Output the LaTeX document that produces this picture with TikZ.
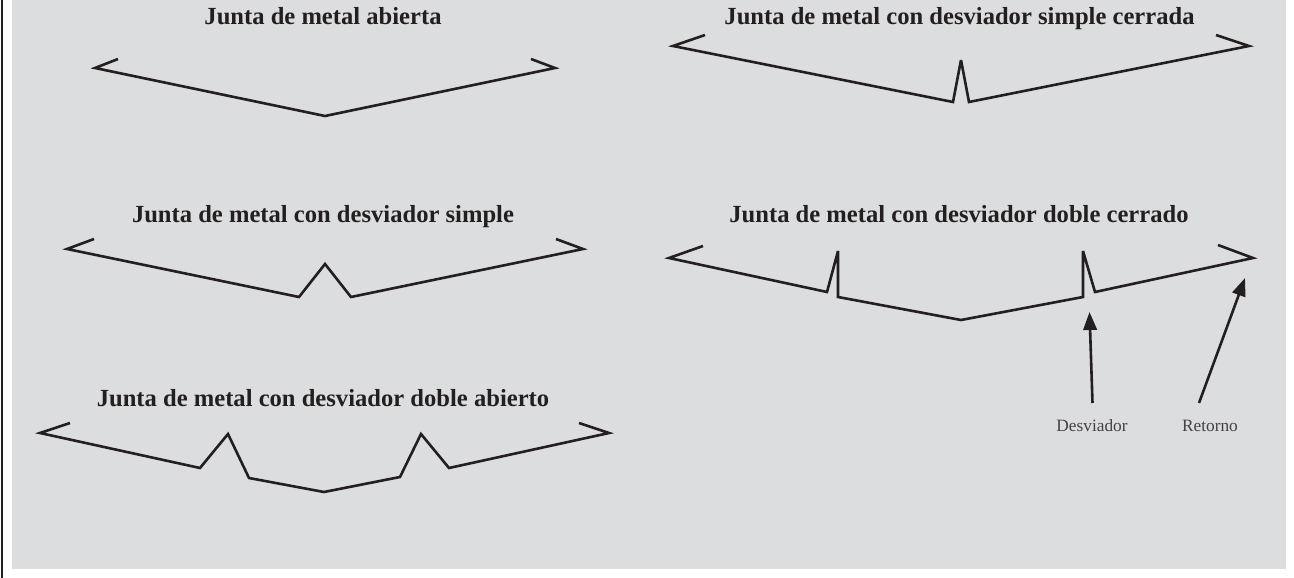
\documentclass[tikz,border=0pt]{standalone}
\usepackage{fontspec}
\setmainfont{Liberation Serif}
\usetikzlibrary{arrows.meta}
\definecolor{panel}{HTML}{DCDDDE}
\definecolor{ink}{HTML}{231F20}
\tikzset{
  x=1pt,y=-1pt,
  joint/.style={draw=ink,line width=2.6pt,miter limit=4.5},
  pointer/.style={draw=ink,line width=2.6pt,-{Triangle[length=18pt,width=13.5pt]}},
  heading/.style={anchor=base,inner sep=0pt,text=ink,font=\fontsize{24.6}{28}\selectfont\bfseries},
  caption/.style={anchor=base,inner sep=0pt,text=ink!85,font=\fontsize{17.3}{20}\selectfont}
}
\begin{document}
\begin{tikzpicture}
\useasboundingbox (0,0) rectangle (1294,578);
\fill[white] (0,0) rectangle (1294,578);
\fill[panel] (11.5,0) rectangle (1286,569);
\fill[ink] (0.5,0) rectangle (3,578);
\node[heading] (t1) at (323,25) {Junta de metal abierta};
\node[heading] (t2) at (323,222) {Junta de metal con desviador simple};
\node[heading] (t3) at (323,406) {Junta de metal con desviador doble abierto};
\node[heading] (t4) at (959.5,25) {Junta de metal con desviador simple cerrada};
\node[heading] (t5) at (959,222) {Junta de metal con desviador doble cerrado};
\draw[joint] (118,59) -- (95,68) -- (325,116) -- (555,68) -- (531,59);
\draw[joint] (94,239) -- (67,249) -- (299,297) -- (325,264) -- (351,297) -- (583,249) -- (556,239);
\draw[joint] (70,423) -- (40,433) -- (200,468) -- (228,434) -- (249,478) -- (324,492) -- (400,477) -- (421,434) -- (449,468) -- (609,433) -- (579,423);
\draw[joint] (705,35) -- (673,46) -- (953,102) -- (961,60) -- (969,102) -- (1249,46) -- (1216,35);
\draw[joint] (703,246) -- (669,258) -- (827,292) -- (838,251) -- (838,297) -- (961,320) -- (1083,297) -- (1083,251) -- (1095,292) -- (1253,258) -- (1218,245);
\node[caption] (desv) at (1092,431) {Desviador};
\node[caption] (ret) at (1210,431) {Retorno};
\coordinate (dfrom) at (1092.5,403);
\coordinate (dto) at (1089.5,312);
\coordinate (rfrom) at (1199,403);
\coordinate (rto) at (1245,278);
\draw[pointer] (dfrom) -- (dto);
\draw[pointer] (rfrom) -- (rto);
\end{tikzpicture}
\end{document}
